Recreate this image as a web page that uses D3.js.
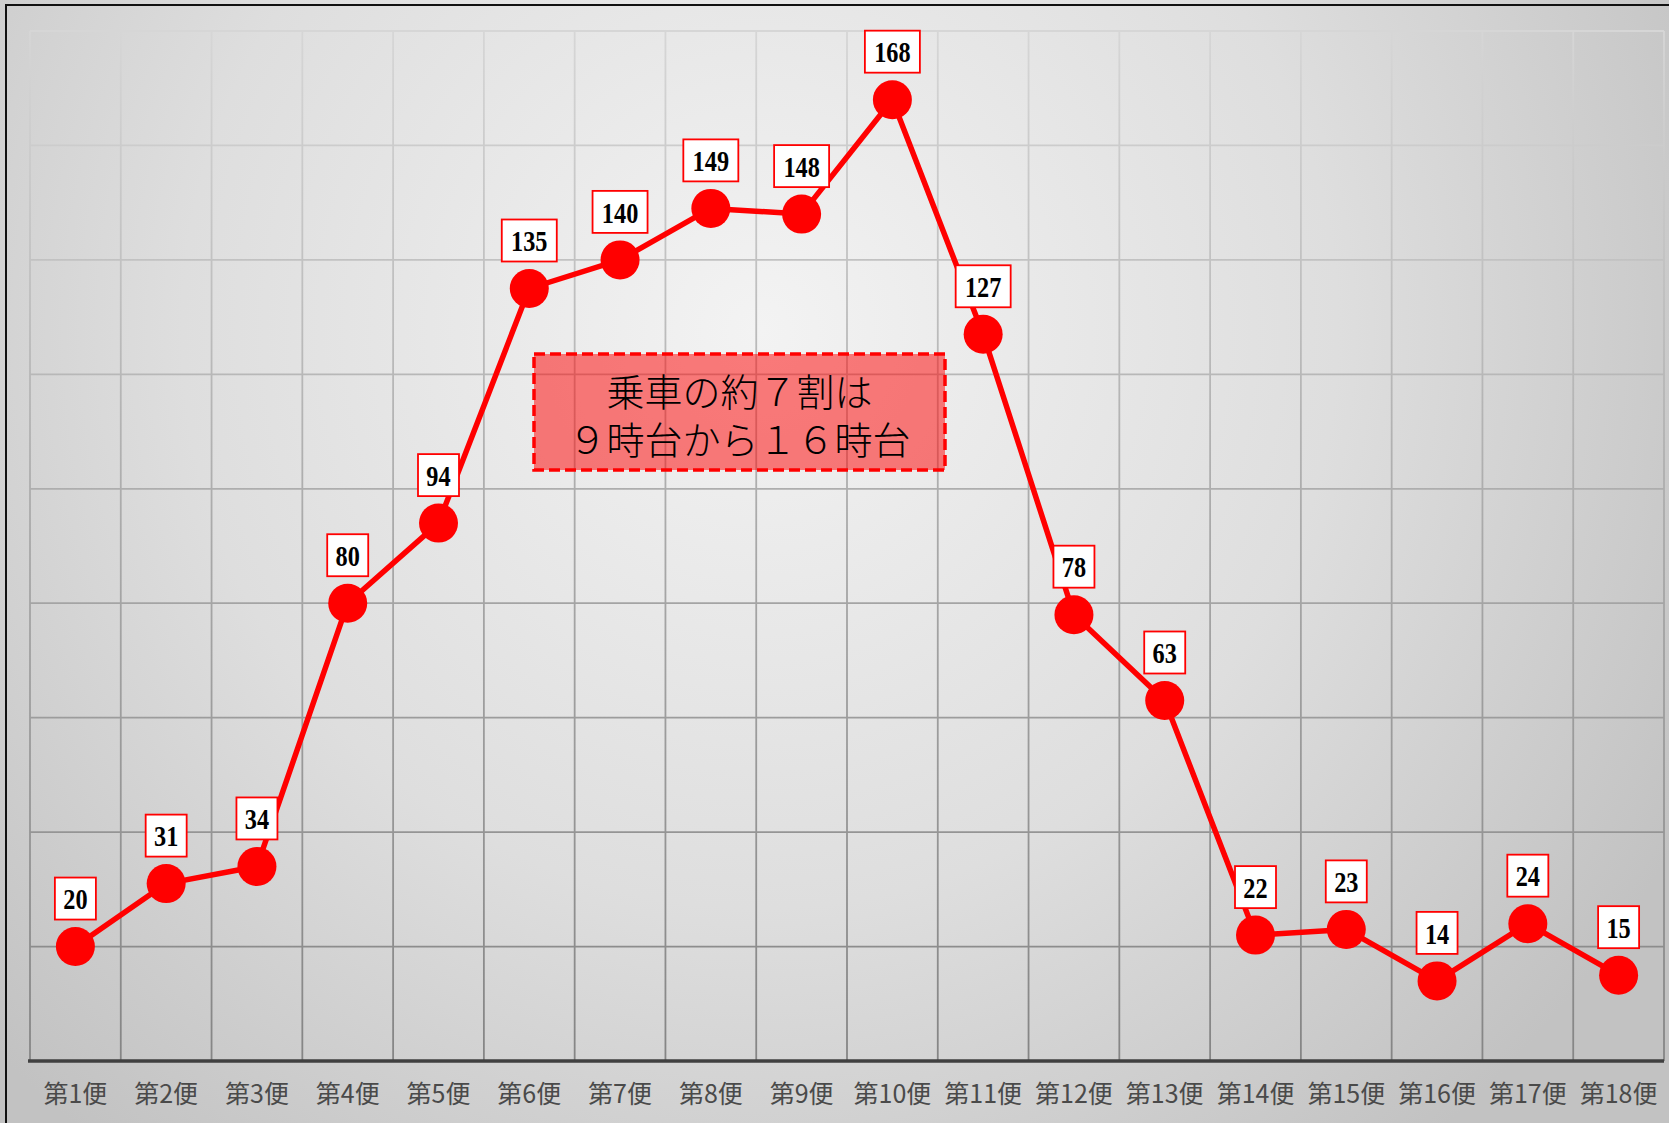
<!DOCTYPE html>
<html><head><meta charset="utf-8">
<script src="https://cdn.jsdelivr.net/npm/d3@7"></script>
<style>body{margin:0;background:#fff;}svg{display:block;}</style>
</head><body>
<script>
const categories = ["第1便","第2便","第3便","第4便","第5便","第6便","第7便","第8便","第9便","第10便","第11便","第12便","第13便","第14便","第15便","第16便","第17便","第18便"];
const values = [20,31,34,80,94,135,140,149,148,168,127,78,63,22,23,14,24,15];
const yTicks = [0,20,40,60,80,100,120,140,160,180];
const noteLines = ["乗車の約７割は","９時台から１６時台"];

const W = 1669, H = 1123;
const m = {left:30, right:1664, top:31, bottom:1061};
const svg = d3.select("body").append("svg").attr("width",W).attr("height",H);
const defs = svg.append("defs");

const bg = defs.append("radialGradient").attr("id","bg").attr("gradientUnits","userSpaceOnUse")
  .attr("cx",760).attr("cy",330).attr("r",1050);
bg.append("stop").attr("offset","0").attr("stop-color","#f3f3f3");
bg.append("stop").attr("offset","0.55").attr("stop-color","#dedede");
bg.append("stop").attr("offset","1").attr("stop-color","#c2c2c2");

const gg = defs.append("linearGradient").attr("id","grid").attr("gradientUnits","userSpaceOnUse")
  .attr("x1",0).attr("y1",m.top).attr("x2",0).attr("y2",m.bottom);
gg.append("stop").attr("offset","0").attr("stop-color","#d6d6d6");
gg.append("stop").attr("offset","0.5").attr("stop-color","#a8a8a8");
gg.append("stop").attr("offset","1").attr("stop-color","#858585");

svg.append("rect").attr("x",0).attr("y",0).attr("width",W).attr("height",H).attr("fill","url(#bg)");
svg.append("rect").attr("x",6).attr("y",5).attr("width",W+10).attr("height",H+10)
  .attr("fill","none").attr("stroke","#111").attr("stroke-width",2);

const x = d3.scaleBand().domain(categories).range([m.left,m.right]).padding(0);
const y = d3.scaleLinear().domain([0,180]).range([m.bottom,m.top]);

const grid = svg.append("g");
grid.selectAll("line.h").data(yTicks.slice(1)).join("line")
  .attr("x1",m.left).attr("x2",m.right).attr("y1",d=>y(d)).attr("y2",d=>y(d))
  .attr("stroke","url(#grid)").attr("stroke-width",1.8);
const bounds = categories.map(c=>x(c)).concat([m.right]);
grid.selectAll("line.v").data(bounds).join("line")
  .attr("x1",d=>d).attr("x2",d=>d).attr("y1",m.top).attr("y2",m.bottom)
  .attr("stroke","url(#grid)").attr("stroke-width",1.8);

// x axis
const xAxis = d3.axisBottom(x).tickSize(0).tickPadding(0);
const ax = svg.append("g").attr("transform",`translate(0,${m.bottom})`).call(xAxis);
ax.select(".domain").remove();
svg.append("line").attr("x1",m.left-2).attr("x2",m.right).attr("y1",m.bottom).attr("y2",m.bottom)
  .attr("stroke","#404040").attr("stroke-width",3.5);
ax.selectAll("text").attr("y",33).attr("dy","0.35em")
  .attr("font-family","'Noto Sans CJK JP'").attr("font-size",25).attr("font-weight",400).attr("fill","#4a4a4a")
  .attr("textLength",null);

// note box
const nb = {x:534,y:354,w:411,h:116};
svg.append("rect").attr("x",nb.x).attr("y",nb.y).attr("width",nb.w).attr("height",nb.h)
  .attr("fill","rgba(255,0,0,0.5)").attr("stroke","#ff0000").attr("stroke-width",3.5)
  .attr("stroke-dasharray","11,5");
svg.append("text").attr("text-anchor","middle")
  .attr("font-family","'Noto Sans CJK JP'").attr("font-size",38).attr("font-weight",300).attr("fill","#000")
  .selectAll("tspan").data(noteLines).join("tspan")
  .attr("x",nb.x+nb.w/2).attr("y",(d,i)=>392+i*48).attr("dy","0.36em")
  .text(d=>d);

// line
const cx = c=>x(c)+x.bandwidth()/2;
const line = d3.line().x((d,i)=>cx(categories[i])).y(d=>y(d));
svg.append("path").datum(values).attr("d",line).attr("fill","none")
  .attr("stroke","#ff0000").attr("stroke-width",5.5).attr("stroke-linejoin","round");
svg.append("g").selectAll("circle").data(values).join("circle")
  .attr("cx",(d,i)=>cx(categories[i])).attr("cy",d=>y(d)).attr("r",19.5).attr("fill","#ff0000");

// labels
const lg = svg.append("g").selectAll("g").data(values).join("g")
  .attr("transform",(d,i)=>`translate(${cx(categories[i])},${y(d)-48})`);
lg.append("rect").attr("x",d=>String(d).length>2?-27.5:-20.5).attr("y",-21)
  .attr("width",d=>String(d).length>2?55:41).attr("height",42)
  .attr("fill","#fff").attr("stroke","#ff0000").attr("stroke-width",1.8);
lg.append("text").attr("text-anchor","middle").attr("dy","0.36em")
  .attr("font-family","'Liberation Serif'").attr("font-weight","bold").attr("font-size",27)
  .attr("transform","scale(0.9,1.1)")
  .attr("fill","#000").text(d=>d);
</script>
</body></html>
